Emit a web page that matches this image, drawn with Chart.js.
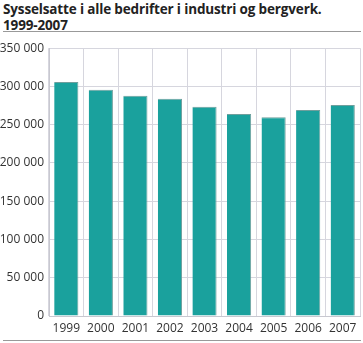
<!DOCTYPE html>
<html>
<head>
<meta charset="utf-8">
<script src="https://cdn.jsdelivr.net/npm/chart.js@4/dist/chart.umd.min.js"></script>
<style>
  body { margin: 0; background: #fff; font-family: "Open Sans", sans-serif; }
  #wrap { position: relative; width: 363px; height: 343px; }
  #title { position: absolute; left: 3px; top: 1px; font-size: 13.5px; font-weight: bold; line-height: 16px; color: #222; letter-spacing: -0.15px; }
  #topline { position: absolute; left: 3px; top: 31px; width: 358px; height: 0; border-top: 1px solid #999; }
  #bottomline { position: absolute; left: 3px; top: 340px; width: 358px; height: 0; border-top: 1px solid #999; }
  #chartbox { position: absolute; left: 0; top: 36px; width: 363px; height: 304px; }
</style>
</head>
<body>
<div id="wrap">
  <div id="title">Sysselsatte i alle bedrifter i industri og bergverk.<br>1999-2007</div>
  <div id="topline"></div>
  <div id="chartbox"><canvas id="chart"></canvas></div>
  <div id="bottomline"></div>
</div>
<script>
var years = ['1999', '2000', '2001', '2002', '2003', '2004', '2005', '2006', '2007'];
var employed = [305700, 295700, 287900, 284000, 273600, 264000, 259600, 269300, 275800];

function fmt(v){
  return String(v).replace(/\B(?=(\d{3})+(?!\d))/g, ' ');
}

var ctx = document.getElementById('chart').getContext('2d');
new Chart(ctx, {
  type: 'bar',
  data: {
    labels: years,
    datasets: [{
      data: employed,
      backgroundColor: '#1aa19d',
      borderColor: '#6f9f9d',
      borderWidth: { top: 1, right: 1, left: 0, bottom: 0 },
      categoryPercentage: 1.0,
      barPercentage: 0.7
    }]
  },
  options: {
    responsive: true,
    maintainAspectRatio: false,
    animation: false,
    layout: { padding: { top: 4, right: 3, left: 0, bottom: 0 } },
    plugins: { legend: { display: false }, tooltip: { enabled: false } },
    scales: {
      x: {
        offset: true,
        grid: { color: '#d6d6de', offset: true, drawTicks: false },
        border: { color: '#c8c8d0' },
        ticks: { color: '#333', font: { family: 'Open Sans', size: 12 }, padding: 5 },
        afterFit: function(s){ s.height = 24; }
      },
      y: {
        min: 0,
        max: 350000,
        ticks: { stepSize: 50000, color: '#333', font: { family: 'Open Sans', size: 12 }, padding: 5,
          callback: function(v){ return fmt(v); } },
        grid: { color: '#d6d6de', drawTicks: false },
        border: { color: '#c8c8d0' },
        afterFit: function(s){ s.width = 49; }
      }
    }
  }
});
</script>
</body>
</html>
